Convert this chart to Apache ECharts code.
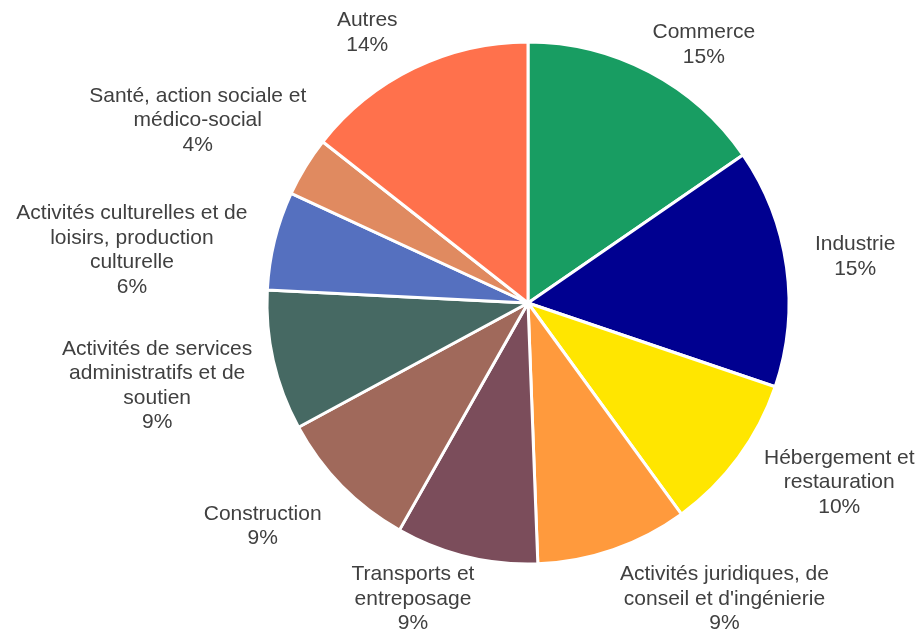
<!DOCTYPE html>
<html>
<head>
<meta charset="utf-8">
<script src="https://cdn.jsdelivr.net/npm/echarts@6/dist/echarts.min.js"></script>
<style>
html,body{margin:0;padding:0;background:#fff;}
#chart{width:920px;height:633px;}
</style>
</head>
<body>
<div id="chart"></div>
<script>
const categories = [
  "Commerce",
  "Industrie",
  "Hébergement et\nrestauration",
  "Activités juridiques, de\nconseil et d'ingénierie",
  "Transports et\nentreposage",
  "Construction",
  "Activités de services\nadministratifs et de\nsoutien",
  "Activités culturelles et de\nloisirs, production\nculturelle",
  "Santé, action sociale et\nmédico-social",
  "Autres"
];
const values = [15.4, 14.8, 9.8, 9.4, 8.8, 8.9, 8.7, 6.1, 3.7, 14.4];
const colors = ["#189d62", "#000090", "#ffe600", "#ff9a3d", "#7b4d5b", "#a0695b", "#466963", "#5570bf", "#e08a60", "#ff714c"];

// label nudges (px) relative to the automatic outside placement, to mimic the reference layout
const labelNudge = [[36, 8], [16.5, -3], [41.5, -19], [94.5, 1], [-41.5, -6], [-45.5, 7.5], [-9.5, 0.5], [-15.5, 41], [-37.5, -3], [-29.5, -0.5]];

const GAP = 12;
const chart = echarts.init(document.getElementById('chart'), null, {renderer: 'canvas'});
chart.setOption({
  animation: false,
  series: [{
    type: 'pie',
    center: [528, 303],
    radius: 261,
    startAngle: 90,
    clockwise: true,
    avoidLabelOverlap: false,
    data: categories.map((c, i) => ({name: c, value: values[i], itemStyle: {color: colors[i]}})),
    itemStyle: {borderColor: '#ffffff', borderWidth: 3},
    label: {
      show: true,
      position: 'outside',
      formatter: p => p.name + '\n' + Math.round(p.percent) + '%',
      fontFamily: 'Liberation Sans, Arial, sans-serif',
      fontSize: 21,
      lineHeight: 24.5,
      color: '#404040'
    },
    labelLine: {show: true, length: 10, length2: 0, lineStyle: {opacity: 0, width: 0}},
    emphasis: {disabled: true},
    labelLayout: function (p) {
      const pts = p.labelLinePoints;
      if (!pts) return {};
      let ex = pts[1][0] - pts[0][0], ey = pts[1][1] - pts[0][1];
      const l = Math.hypot(ex, ey) || 1;
      const dx = ex / l, dy = ey / l;
      const w = p.labelRect.width, h = p.labelRect.height;
      const tx = Math.abs(dx) > 1e-6 ? w / 2 / Math.abs(dx) : Infinity;
      const ty = Math.abs(dy) > 1e-6 ? h / 2 / Math.abs(dy) : Infinity;
      const t = Math.min(tx, ty);
      const n = labelNudge[p.dataIndex] || [0, 0];
      return {
        x: pts[0][0] + dx * (GAP + t) + n[0],
        y: pts[0][1] + dy * (GAP + t) + n[1],
        align: 'center',
        verticalAlign: 'middle'
      };
    }
  }]
});
</script>
</body>
</html>
